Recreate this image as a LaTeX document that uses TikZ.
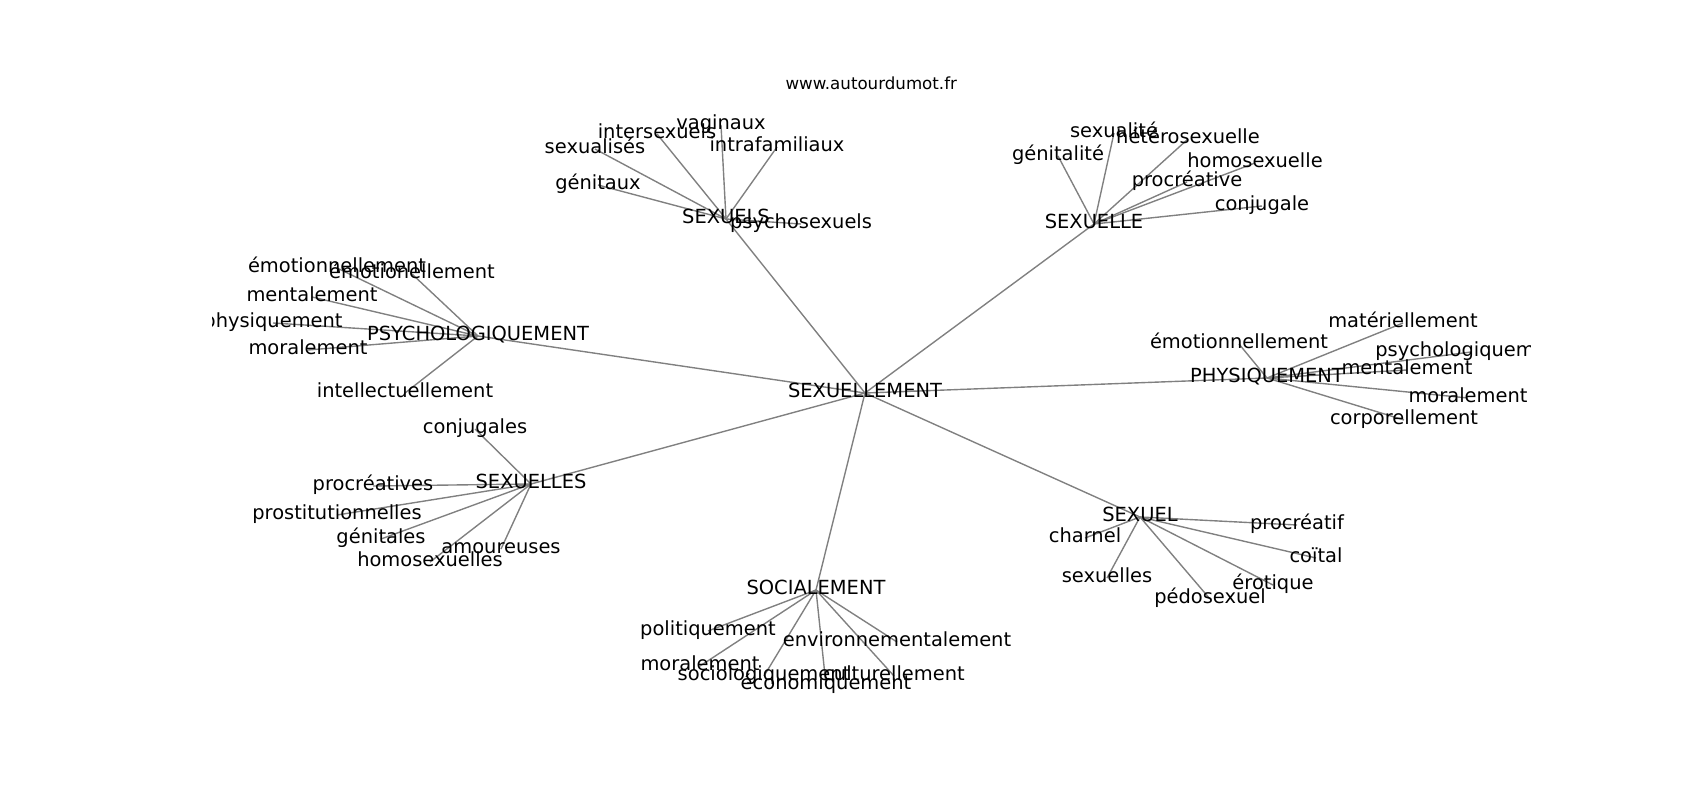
\documentclass[tikz,border=0pt]{standalone}
\usepackage{fontspec}
\setmainfont{DejaVu Sans}
\usetikzlibrary{backgrounds}
\tikzset{
  lbl/.style={inner sep=0pt, outer sep=0pt, anchor=center, text height=0.93em, text depth=0.24em, font=\fontsize{14}{16}\selectfont, text=black},
  ttl/.style={inner sep=0pt, anchor=center, font=\fontsize{12}{14}\selectfont, text=black},
  edge/.style={draw=gray, line width=1pt}
}
\begin{document}
\begin{tikzpicture}[x=0.72pt, y=-0.72pt]
\useasboundingbox (0,0) rectangle (1700,800);
\node[ttl] (title) at (871.25,83) {www.autourdumot.fr};
\begin{scope}
\clip (212.5,96) rectangle (1530,712);
% hubs
\node[lbl] (c) at (865,393) {SEXUELLEMENT};
\node[lbl] (sxs) at (726,219) {SEXUELS};
\node[lbl] (sxe) at (1094,224) {SEXUELLE};
\node[lbl] (psy) at (478,336) {PSYCHOLOGIQUEMENT};
\node[lbl] (phy) at (1267,378) {PHYSIQUEMENT};
\node[lbl] (sxes) at (531,484) {SEXUELLES};
\node[lbl] (sxl) at (1140,517) {SEXUEL};
\node[lbl] (soc) at (816,590) {SOCIALEMENT};
% SEXUELS leaves
\node[lbl] (a1) at (721,125) {vaginaux};
\node[lbl] (a2) at (657,134) {intersexuels};
\node[lbl] (a3) at (595,149) {sexualisés};
\node[lbl] (a4) at (777,147) {intrafamiliaux};
\node[lbl] (a5) at (598,185) {génitaux};
\node[lbl] (a6) at (801,224) {psychosexuels};
% SEXUELLE leaves
\node[lbl] (b1) at (1114,133) {sexualité};
\node[lbl] (b2) at (1188,139) {hétérosexuelle};
\node[lbl] (b3) at (1058,156) {génitalité};
\node[lbl] (b4) at (1255,163) {homosexuelle};
\node[lbl] (b5) at (1187,182) {procréative};
\node[lbl] (b6) at (1262,206) {conjugale};
% PSYCHOLOGIQUEMENT leaves
\node[lbl] (p1) at (337,268) {émotionnellement};
\node[lbl] (p2) at (412,274) {émotionellement};
\node[lbl] (p3) at (312,297) {mentalement};
\node[lbl] (p4) at (273,323) {physiquement};
\node[lbl] (p5) at (308,350) {moralement};
\node[lbl] (p6) at (405,393) {intellectuellement};
% PHYSIQUEMENT leaves
\node[lbl] (q1) at (1403,323) {matériellement};
\node[lbl] (q2) at (1239,344) {émotionnellement};
\node[lbl] (q3) at (1471,352) {psychologiquement};
\node[lbl] (q4) at (1407,370) {mentalement};
\node[lbl] (q5) at (1468,398) {moralement};
\node[lbl] (q6) at (1404,420) {corporellement};
% SEXUELLES leaves
\node[lbl] (r1) at (475,429) {conjugales};
\node[lbl] (r2) at (373,486) {procréatives};
\node[lbl] (r3) at (337,515) {prostitutionnelles};
\node[lbl] (r4) at (381,539) {génitales};
\node[lbl] (r5) at (501,549) {amoureuses};
\node[lbl] (r6) at (430,562) {homosexuelles};
% SEXUEL leaves
\node[lbl] (s1) at (1297,525) {procréatif};
\node[lbl] (s2) at (1085,538) {charnel};
\node[lbl] (s3) at (1316,558) {coïtal};
\node[lbl] (s4) at (1107,578) {sexuelles};
\node[lbl] (s5) at (1273,585) {érotique};
\node[lbl] (s6) at (1210,599) {pédosexuel};
% SOCIALEMENT leaves
\node[lbl] (t1) at (708,631) {politiquement};
\node[lbl] (t2) at (897,642) {environnementalement};
\node[lbl] (t3) at (700,666) {moralement};
\node[lbl] (t4) at (764,676) {sociologiquement};
\node[lbl] (t5) at (894,676) {culturellement};
\node[lbl] (t6) at (826,685) {économiquement};
\end{scope}
\begin{scope}[on background layer]
\foreach \h in {sxs,sxe,psy,phy,sxes,sxl,soc} \draw[edge] (c.center) -- (\h.center);
\foreach \l in {a1,a2,a3,a4,a5,a6} \draw[edge] (sxs.center) -- (\l.center);
\foreach \l in {b1,b2,b3,b4,b5,b6} \draw[edge] (sxe.center) -- (\l.center);
\foreach \l in {p1,p2,p3,p4,p5,p6} \draw[edge] (psy.center) -- (\l.center);
\foreach \l in {q1,q2,q3,q4,q5,q6} \draw[edge] (phy.center) -- (\l.center);
\foreach \l in {r1,r2,r3,r4,r5,r6} \draw[edge] (sxes.center) -- (\l.center);
\foreach \l in {s1,s2,s3,s4,s5,s6} \draw[edge] (sxl.center) -- (\l.center);
\foreach \l in {t1,t2,t3,t4,t5,t6} \draw[edge] (soc.center) -- (\l.center);
\end{scope}
\end{tikzpicture}
\end{document}
